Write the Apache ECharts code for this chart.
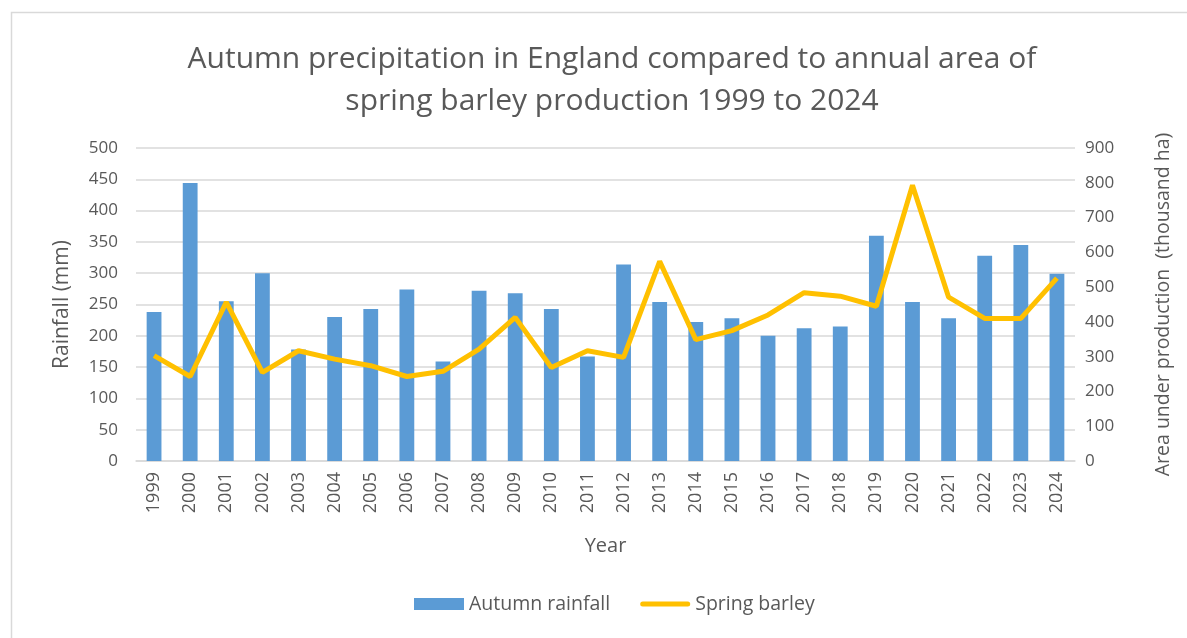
<!DOCTYPE html>
<html>
<head>
<meta charset="utf-8">
<script src="https://cdn.jsdelivr.net/npm/echarts@6/dist/echarts.min.js"></script>
<style>
  html, body { margin: 0; padding: 0; background: #fff; }
  #myChart { width: 1187px; height: 638px; }
</style>
</head>
<body>
<div id="myChart"></div>
<script>
// data
let years = ['1999', '2000', '2001', '2002', '2003', '2004', '2005', '2006', '2007', '2008', '2009', '2010', '2011',
  '2012', '2013', '2014', '2015', '2016', '2017', '2018', '2019', '2020', '2021', '2022', '2023', '2024']
let rainfall = [238, 444, 255, 300, 178, 230, 243, 274, 159, 272, 268, 243, 167,
  314, 254, 222, 228, 200, 212, 215, 360, 254, 228, 328, 345, 299]
let barley = [303, 243, 457, 255, 317, 293, 274, 243, 258, 322, 413, 269, 317,
  298, 574, 349, 375, 420, 484, 474, 445, 793, 471, 410, 410, 526]

let txt = '#595959'
let font = 'Open Sans'

let myChart = echarts.init(document.getElementById('myChart'))
myChart.setOption({
  animation: false,
  textStyle: { fontFamily: font },
  graphic: [{
    type: 'rect',
    shape: { x: 11.5, y: 12.5, width: 1300, height: 800 },
    style: { fill: 'none', stroke: '#d9d9d9', lineWidth: 1.5 }
  }],
  title: {
    text: 'Autumn precipitation in England compared to annual area of\nspring barley production 1999 to 2024',
    left: 607,
    textAlign: 'center',
    top: 33,
    textStyle: { fontFamily: font, fontSize: 30, fontWeight: 'normal', color: txt, lineHeight: 42 }
  },
  legend: {
    bottom: 19,
    left: 409,
    itemWidth: 50,
    itemHeight: 12,
    itemGap: 30,
    textStyle: { fontFamily: font, fontSize: 19.5, color: txt },
    data: [
      { name: 'Autumn rainfall', icon: 'rect' },
      { name: 'Spring barley', icon: 'path://M2.5,0 L47.5,0 A2.5,2.5 0 0 1 47.5,5 L2.5,5 A2.5,2.5 0 0 1 2.5,0 Z' }
    ]
  },
  grid: { left: 136, right: 112, top: 148, bottom: 177 },
  xAxis: {
    type: 'category',
    data: years,
    name: 'Year',
    nameLocation: 'middle',
    nameGap: 75,
    nameTextStyle: { fontSize: 20, color: txt },
    axisLine: { lineStyle: { color: '#d9d9d9', width: 1.5 } },
    axisTick: { show: false },
    axisLabel: { rotate: 90, fontSize: 18, color: txt, margin: 11 }
  },
  yAxis: [
    {
      type: 'value',
      min: 0, max: 500, interval: 50,
      name: 'Rainfall (mm)',
      nameLocation: 'middle',
      nameRotate: 90,
      nameGap: 63,
      nameTextStyle: { fontSize: 21, color: txt },
      axisLabel: { fontSize: 17, color: txt, margin: 18 },
      splitLine: { lineStyle: { color: '#d9d9d9', width: 1.5 } }
    },
    {
      type: 'value',
      min: 0, max: 900, interval: 100,
      name: 'Area under production  (thousand ha)',
      nameLocation: 'middle',
      nameRotate: 90,
      nameGap: 78,
      nameTextStyle: { fontSize: 19.5, color: txt },
      axisLabel: { fontSize: 17, color: txt, margin: 10 },
      splitLine: { show: false }
    }
  ],
  series: [
    {
      name: 'Autumn rainfall',
      type: 'bar',
      data: rainfall,
      barWidth: '41%',
      itemStyle: { color: '#5b9bd5' }
    },
    {
      name: 'Spring barley',
      type: 'line',
      yAxisIndex: 1,
      data: barley,
      symbol: 'none',
      lineStyle: { color: '#ffc000', width: 5 },
      itemStyle: { color: '#ffc000' }
    }
  ]
})
</script>
</body>
</html>
